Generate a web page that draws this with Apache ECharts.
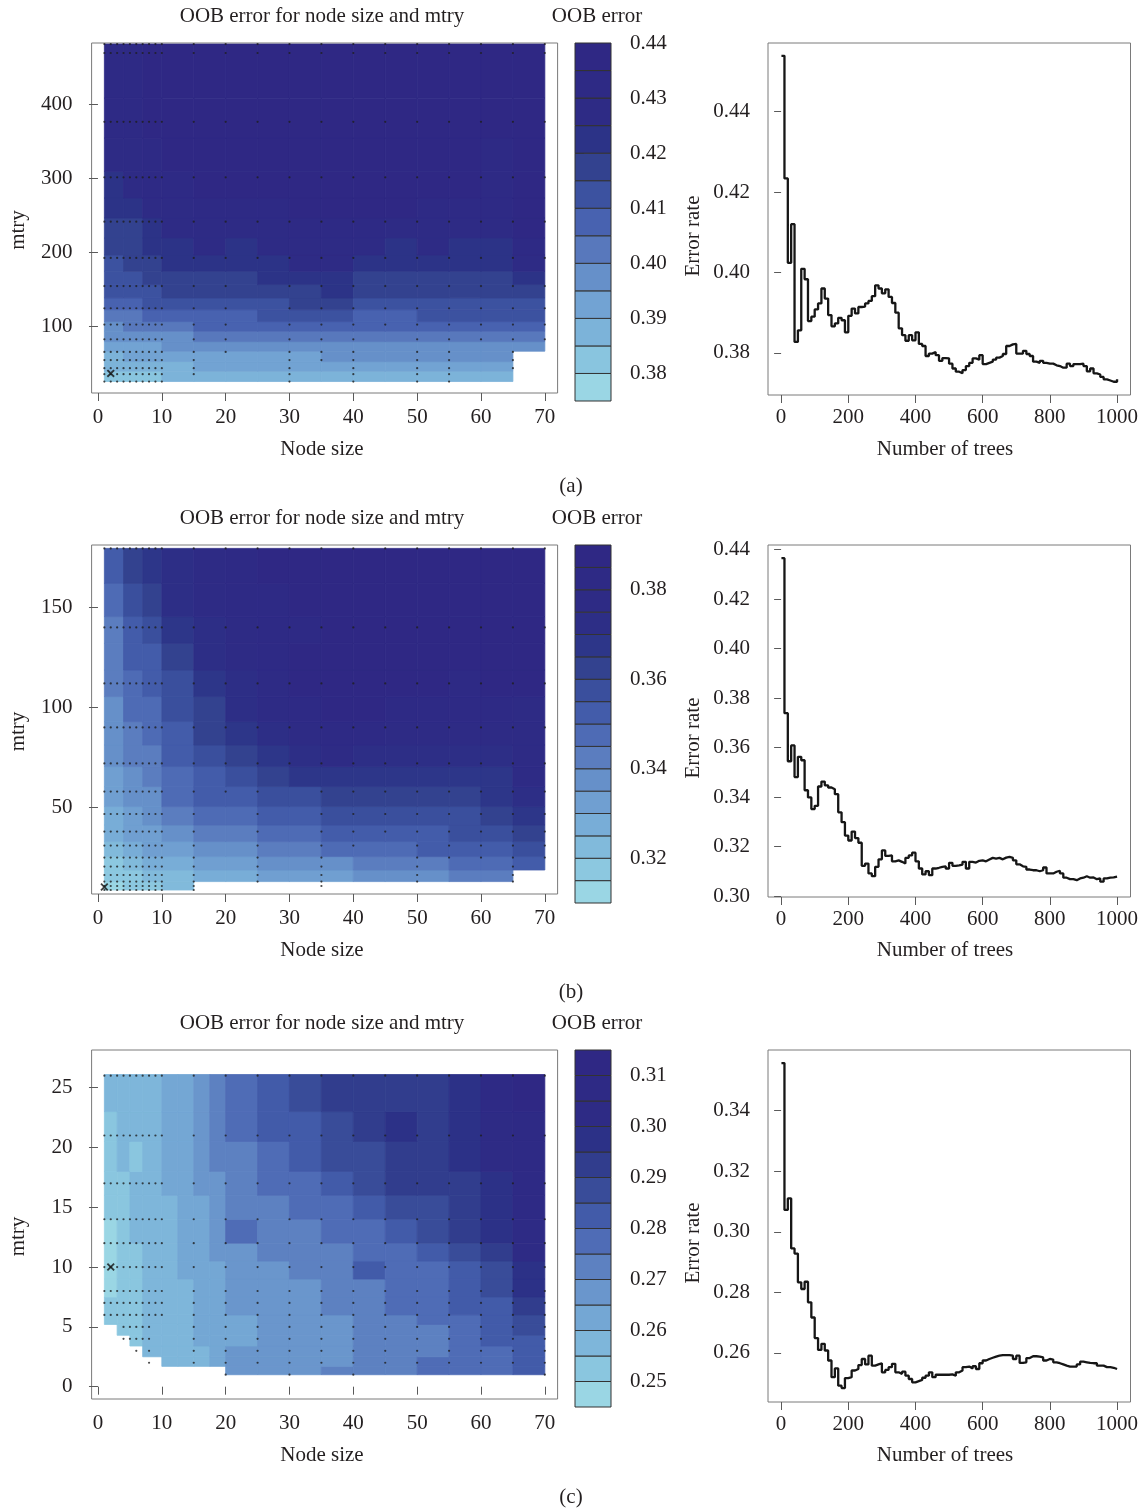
<!DOCTYPE html>
<html><head><meta charset="utf-8">
<script src="https://cdn.jsdelivr.net/npm/echarts@6/dist/echarts.min.js"></script>
<style>html,body{margin:0;padding:0;background:#fff}#c{width:1143px;height:1510px}</style>
</head><body><div id="c"></div>
<script>
// ---------- DATA ----------
const n = null;
// Panel (a) contour grid: column edges (node size), row edges (mtry), OOB error rows bottom->top
const nodeEdgesA = [1,4,7,10,15,20,25,30,35,40,45,50,55,60,65,70];
const mtryEdgesA = [25,39,52,66,79,93,106,122,138,156,174,196,219,246,273,309,354,408,481];
const oobA = [
 [.382,.382,.382,.387,.387,.387,.387,.387,.387,.387,.387,.387,.387,.387,n],
 [.387,.387,.387,.387,.392,.392,.392,.392,.392,.392,.392,.392,.392,.392,n],
 [.387,.392,.392,.392,.392,.392,.392,.392,.397,.397,.397,.397,.397,.397,n],
 [.392,.392,.392,.397,.397,.397,.397,.397,.397,.397,.397,.397,.397,.397,.397],
 [.397,.397,.397,.397,.402,.402,.402,.402,.402,.402,.402,.402,.402,.402,.402],
 [.397,.402,.402,.402,.407,.407,.407,.407,.407,.407,.407,.407,.407,.407,.407],
 [.402,.402,.407,.407,.407,.407,.412,.412,.412,.407,.407,.412,.412,.412,.412],
 [.407,.407,.412,.412,.412,.412,.412,.417,.417,.412,.412,.412,.412,.412,.412],
 [.412,.412,.412,.417,.417,.417,.417,.417,.422,.417,.417,.417,.417,.417,.417],
 [.412,.412,.417,.417,.417,.417,.422,.422,.422,.417,.417,.417,.417,.417,.422],
 [.412,.417,.417,.422,.422,.422,.422,.427,.427,.422,.422,.422,.422,.422,.427],
 [.417,.417,.422,.422,.427,.422,.427,.427,.427,.427,.422,.427,.422,.422,.432],
 [.417,.417,.422,.427,.427,.427,.427,.432,.432,.432,.427,.427,.427,.427,.437],
 [.422,.422,.427,.427,.432,.432,.432,.437,.437,.437,.437,.432,.432,.432,.437],
 [.422,.427,.432,.432,.437,.437,.437,.437,.437,.437,.437,.437,.437,.432,.437],
 [.427,.427,.432,.437,.437,.437,.437,.437,.437,.437,.437,.437,.437,.432,.437],
 [.432,.432,.437,.437,.437,.437,.437,.437,.437,.437,.437,.437,.437,.437,.437],
 [.432,.432,.437,.437,.437,.437,.437,.437,.437,.437,.437,.437,.437,.437,.437]
];
const levelsA = [0.375,0.38,0.385,0.39,0.395,0.40,0.405,0.41,0.415,0.42,0.425,0.43,0.435,0.44];
const keyTicksA = [0.38,0.39,0.40,0.41,0.42,0.43,0.44];

// Panel (b)
const nodeEdgesB = [1,4,7,10,15,20,25,30,35,40,45,50,55,60,65,70];
const mtryEdgesB = [8.5,12.7,18.5,25.2,32.7,41,50.2,60.2,70.2,81,92.7,105.2,118.5,131.8,145.2,161.8,179.3];
const oobB = [
 [.312,.317,.317,.322,n,n,n,n,n,n,n,n,n,n,n],
 [.317,.317,.322,.322,.327,.327,.332,.332,.332,.337,.337,.337,.342,.342,n],
 [.317,.322,.327,.327,.332,.332,.337,.337,.337,.342,.342,.342,.347,.347,.352],
 [.322,.327,.332,.332,.337,.337,.342,.342,.347,.347,.347,.352,.352,.352,.357],
 [.327,.332,.332,.337,.342,.342,.347,.347,.352,.352,.352,.352,.357,.357,.362],
 [.327,.332,.337,.342,.347,.347,.352,.352,.357,.357,.357,.357,.357,.362,.367],
 [.332,.337,.337,.347,.352,.352,.357,.357,.362,.362,.362,.362,.362,.367,.372],
 [.332,.337,.342,.347,.352,.357,.362,.367,.367,.367,.367,.367,.367,.367,.377],
 [.337,.342,.342,.352,.357,.362,.367,.372,.377,.372,.372,.372,.372,.372,.377],
 [.337,.342,.347,.352,.362,.367,.372,.377,.382,.382,.377,.377,.377,.377,.377],
 [.337,.347,.347,.357,.362,.372,.377,.382,.387,.387,.382,.382,.382,.382,.377],
 [.342,.347,.352,.357,.367,.372,.377,.387,.387,.387,.387,.387,.382,.387,.387],
 [.342,.352,.352,.362,.372,.377,.382,.387,.387,.387,.387,.387,.387,.387,.387],
 [.342,.352,.357,.367,.372,.377,.382,.382,.387,.387,.387,.387,.387,.387,.387],
 [.347,.357,.362,.372,.377,.382,.382,.387,.387,.387,.387,.387,.387,.387,.387],
 [.352,.362,.367,.372,.377,.382,.387,.387,.387,.387,.387,.387,.387,.387,.387]
];
const levelsB = [0.31,0.315,0.32,0.325,0.33,0.335,0.34,0.345,0.35,0.355,0.36,0.365,0.37,0.375,0.38,0.385,0.39];
const keyTicksB = [0.32,0.34,0.36,0.38];

// Panel (c)
const nodeEdgesC = [1,3,5,7,10,12.5,15,17.5,20,25,30,35,40,45,50,55,60,65,70];
const mtryEdgesC = [1,1.7,2.5,3.4,4.3,5.2,6,7.5,9,10.5,12,14,16,18,20.5,23,26.1];
const oobC = [
 [n,n,n,n,n,n,n,n,.267,.267,.267,.272,.272,.272,.277,.277,.277,.282],
 [n,n,n,n,.257,.257,.257,.262,.267,.267,.267,.267,.272,.272,.277,.277,.277,.282],
 [n,n,n,.257,.257,.257,.257,.262,.267,.267,.267,.267,.272,.272,.272,.277,.277,.282],
 [n,n,.252,.257,.257,.257,.262,.262,.262,.267,.267,.267,.272,.272,.272,.277,.282,.282],
 [n,.252,.252,.257,.257,.257,.262,.262,.262,.267,.267,.267,.272,.272,.272,.277,.282,.287],
 [.252,.252,.252,.257,.257,.257,.262,.262,.262,.267,.267,.267,.272,.272,.277,.277,.282,.287],
 [.252,.252,.252,.257,.257,.257,.262,.262,.267,.267,.267,.272,.272,.277,.277,.282,.282,.292],
 [.247,.252,.252,.257,.257,.257,.262,.262,.267,.267,.267,.272,.272,.277,.277,.282,.287,.297],
 [.247,.252,.252,.257,.257,.262,.262,.262,.267,.267,.272,.272,.282,.277,.277,.282,.287,.297],
 [.247,.252,.252,.257,.257,.262,.262,.267,.267,.272,.272,.272,.277,.277,.282,.287,.292,.302],
 [.247,.252,.257,.257,.257,.262,.262,.267,.277,.272,.272,.277,.277,.282,.287,.292,.297,.302],
 [.252,.252,.257,.257,.257,.262,.262,.267,.272,.272,.277,.277,.282,.287,.287,.292,.297,.307],
 [.252,.252,.257,.257,.262,.262,.267,.267,.272,.277,.277,.282,.287,.292,.292,.292,.297,.307],
 [.252,.257,.252,.257,.262,.262,.267,.272,.272,.277,.282,.287,.287,.292,.292,.297,.302,.307],
 [.252,.257,.257,.257,.262,.262,.267,.272,.277,.282,.282,.287,.292,.297,.292,.297,.302,.307],
 [.257,.257,.257,.257,.262,.262,.267,.272,.277,.282,.287,.292,.292,.292,.292,.297,.307,.312]
];
const levelsC = [0.245,0.25,0.255,0.26,0.265,0.27,0.275,0.28,0.285,0.29,0.295,0.30,0.305,0.31,0.315];
const keyTicksC = [0.25,0.26,0.27,0.28,0.29,0.30,0.31];

// sample points (dots) and best settings (x markers)
const dotNodes = [1,2,3,4,5,6,7,8,9,10,15,20,25,30,35,40,45,50,55,60,65,70];
const dotMtryA = [25,35,43,54,65,82,102,124,154,192,241,301,376,469,481];
const dotMinA  = [25,25,25,25,25,25,25,25,25,25,35,65,192,25,54,25,102,25,25,82,43,82];
const dotMtryB = [8.5,10.5,12.7,16,20.2,24.7,30.7,37.7,46.5,57.7,71.8,89.8,111.8,139.8,179.3];
const dotMinB  = [8.5,8.5,8.5,8.5,8.5,8.5,8.5,8.5,8.5,8.5,8.5,57.7,12.7,71.8,10.5,30.7,37.7,12.7,24.7,24.7,12.7,24.7];
const dotMtryC = [1,2,3,4,5,6,7,8,10,12,14,17,21,26];
const dotMinC  = [6,6,6,4,4,3,4,2,6,6,2,1,2,1,2,1,2,2,2,2,2,1];
const bestA = [2,36], bestB = [1,10], bestC = [2,10];

// error rate vs number of trees
const trees = [1,10,20,30,40,50,60,70,80,90,100,110,120,130,140,150,160,170,180,190,200,210,220,230,240,250,260,270,280,290,300,310,320,330,340,350,360,370,380,390,400,410,420,430,440,450,460,470,480,490,500,510,520,530,540,550,560,570,580,590,600,610,620,630,640,650,660,670,680,690,700,710,720,730,740,750,760,770,780,790,800,810,820,830,840,850,860,870,880,890,900,910,920,930,940,950,960,970,980,990,1000];
const errA = [0.4539,0.4234,0.4024,0.4120,0.3827,0.3856,0.4009,0.3983,0.3879,0.3890,
 0.3908,0.3923,0.3960,0.3935,0.3894,0.3866,0.3873,0.3887,0.3881,0.3851,
 0.3892,0.3910,0.3898,0.3914,0.3915,0.3923,0.3929,0.3941,0.3968,0.3960,
 0.3948,0.3958,0.3939,0.3924,0.3900,0.3861,0.3844,0.3830,0.3844,0.3831,
 0.3851,0.3822,0.3817,0.3792,0.3798,0.3802,0.3794,0.3780,0.3787,0.3786,
 0.3773,0.3761,0.3753,0.3749,0.3757,0.3767,0.3775,0.3786,0.3783,0.3794,
 0.3772,0.3775,0.3778,0.3783,0.3788,0.3792,0.3797,0.3817,0.3821,0.3822,
 0.3798,0.3798,0.3805,0.3797,0.3792,0.3778,0.3775,0.3780,0.3775,0.3773,
 0.3773,0.3769,0.3767,0.3763,0.3763,0.3773,0.3767,0.3772,0.3772,0.3773,
 0.3767,0.3754,0.3761,0.3749,0.3746,0.3740,0.3734,0.3731,0.3728,0.3728,0.3734];
const errB = [0.4365,0.3739,0.3545,0.3609,0.3481,0.3563,0.3549,0.3428,0.3399,0.3352,
 0.3365,0.3443,0.3463,0.3448,0.3439,0.3432,0.3412,0.3339,0.3299,0.3245,
 0.3225,0.3261,0.3235,0.3216,0.3123,0.3132,0.3092,0.3081,0.3119,0.3149,
 0.3185,0.3163,0.3165,0.3141,0.3145,0.3139,0.3132,0.3155,0.3165,0.3176,
 0.3141,0.3112,0.3088,0.3101,0.3085,0.3112,0.3115,0.3119,0.3121,0.3112,
 0.3135,0.3123,0.3125,0.3128,0.3139,0.3112,0.3139,0.3136,0.3143,0.3145,
 0.3141,0.3148,0.3155,0.3152,0.3155,0.3149,0.3156,0.3159,0.3155,0.3145,
 0.3129,0.3121,0.3119,0.3108,0.3105,0.3105,0.3101,0.3105,0.3116,0.3092,
 0.3092,0.3099,0.3103,0.3092,0.3075,0.3069,0.3069,0.3065,0.3072,0.3075,
 0.3081,0.3075,0.3076,0.3069,0.3072,0.3059,0.3072,0.3075,0.3076,0.3079,0.3081];
const errC = [0.3557,0.3072,0.3110,0.2945,0.2928,0.2833,0.2811,0.2835,0.2767,0.2717,
 0.2649,0.2610,0.2630,0.2608,0.2575,0.2520,0.2549,0.2492,0.2484,0.2517,
 0.2520,0.2542,0.2547,0.2560,0.2580,0.2562,0.2591,0.2558,0.2562,0.2566,
 0.2536,0.2544,0.2553,0.2564,0.2536,0.2531,0.2538,0.2525,0.2514,0.2503,
 0.2507,0.2511,0.2518,0.2525,0.2536,0.2520,0.2528,0.2528,0.2528,0.2528,
 0.2529,0.2525,0.2536,0.2542,0.2553,0.2555,0.2549,0.2556,0.2547,0.2566,
 0.2575,0.2580,0.2584,0.2588,0.2591,0.2593,0.2593,0.2593,0.2591,0.2580,
 0.2591,0.2567,0.2569,0.2583,0.2589,0.2589,0.2588,0.2585,0.2575,0.2580,
 0.2578,0.2569,0.2566,0.2562,0.2558,0.2555,0.2555,0.2555,0.2562,0.2571,
 0.2569,0.2567,0.2566,0.2566,0.2558,0.2558,0.2553,0.2553,0.2551,0.2547,0.2547];

// tick labels
const nodeTicks = [0,10,20,30,40,50,60,70];
const mtryTicksA = [100,200,300,400];
const mtryTicksB = [50,100,150];
const mtryTicksC = [0,5,10,15,20,25];
const treeTicks = [0,200,400,600,800,1000];
const errTicksA = [0.38,0.40,0.42,0.44];
const errTicksB = [0.30,0.32,0.34,0.36,0.38,0.40,0.42,0.44];
const errTicksC = [0.26,0.28,0.30,0.32,0.34];

// ---------- STYLE ----------
const FONT = "'Liberation Serif','DejaVu Serif',serif";
const TXT = '#231f20';
const FS = 21;
const TICK = {color:'#5a5a5a', width:1};
const rampAnchors = ['#9ad6e4','#89c5df','#7cb3d9','#72a3d3','#6690c9','#5878bc','#4862b0','#3c52a0','#33428f','#2c3387','#2e2b85','#2e2a85','#2f2884'];
function palette(nb){ const out=[]; for(let i=0;i<nb;i++){ out.push(echarts.color.lerp(nb===1?0:i/(nb-1), rampAnchors)); } return out; }

function cells(nodeEdges, mtryEdges, rows){
  const out=[];
  rows.forEach((row,r)=>row.forEach((v,c)=>{ if(v!=null) out.push([nodeEdges[c],nodeEdges[c+1],mtryEdges[r],mtryEdges[r+1],v]); }));
  return out;
}
function dots(nodes, mtrys, mins){
  const out=[]; nodes.forEach((nd,i)=>mtrys.forEach(m=>{ if(m>=mins[i]) out.push([nd,m]); })); return out;
}
function colorOf(levels, pal, v){
  for(let i=0;i<pal.length;i++){ if(v<levels[i+1]) return pal[i]; }
  return pal[pal.length-1];
}

const panels = [
  {ne:nodeEdgesA, me:mtryEdgesA, oob:oobA, lv:levelsA, kt:keyTicksA, mt:mtryTicksA, dm:dotMtryA, dmin:dotMinA, best:bestA, err:errA, et:errTicksA,
   top:43, ch:350, ymin:9.5, ymax:482.5, ktop:43, kh:358, ltop:43, lmin:0.3695, lmax:0.4571, lab:'(a)', ly:486},
  {ne:nodeEdgesB, me:mtryEdgesB, oob:oobB, lv:levelsB, kt:keyTicksB, mt:mtryTicksB, dm:dotMtryB, dmin:dotMinB, best:bestB, err:errB, et:errTicksB,
   top:545, ch:349, ymin:6.5, ymax:181, ktop:545, kh:358, ltop:545, lmin:0.2997, lmax:0.4418, lab:'(b)', ly:992},
  {ne:nodeEdgesC, me:mtryEdgesC, oob:oobC, lv:levelsC, kt:keyTicksC, mt:mtryTicksC, dm:dotMtryC, dmin:dotMinC, best:bestC, err:errC, et:errTicksC,
   top:1050, ch:349, ymin:-1.03, ymax:28.15, ktop:1050, kh:357, ltop:1050, lmin:0.2438, lmax:0.3600, lab:'(c)', ly:1497}
];

const grid=[], xAxis=[], yAxis=[], series=[], graphic=[];
function lbl(extra){ return Object.assign({color:TXT, fontFamily:FONT, fontSize:FS}, extra); }
function txt(x,y,t,rot){ const g={type:'text', x:x, y:y, style:{text:t, fill:TXT, font:FS+'px '+FONT, align:'center', verticalAlign:'middle'}}; if(rot){g.rotation=Math.PI/2;} graphic.push(g); }

panels.forEach((p,k)=>{
  const gi = k*3;
  const pal = palette(p.lv.length-1);
  // contour grid
  grid.push({left:91.6, top:p.top, width:466, height:p.ch, show:true, borderColor:'#7a7a7a', borderWidth:1, backgroundColor:'transparent'});
  xAxis.push({type:'value', gridIndex:gi, min:-1, max:72, axisLine:{show:false}, splitLine:{show:false},
    axisTick:{show:true, length:8, lineStyle:TICK, customValues:nodeTicks},
    axisLabel:lbl({margin:14, customValues:nodeTicks, formatter:v=>String(v)})});
  yAxis.push({type:'value', gridIndex:gi, min:p.ymin, max:p.ymax, axisLine:{show:false}, splitLine:{show:false},
    axisTick:{show:true, length:9, lineStyle:TICK, customValues:p.mt},
    axisLabel:lbl({margin:19, customValues:p.mt, formatter:v=>String(v)})});
  series.push({type:'custom', xAxisIndex:gi, yAxisIndex:gi, clip:true, silent:true,
    dimensions:['x0','x1','y0','y1','v'], encode:{x:[0,1], y:[2,3]},
    data: cells(p.ne, p.me, p.oob),
    renderItem:(params, api)=>{
      const a = api.coord([api.value(0), api.value(3)]);
      const b = api.coord([api.value(1), api.value(2)]);
      const c = colorOf(p.lv, pal, api.value(4));
      return {type:'rect', shape:{x:a[0], y:a[1], width:b[0]-a[0], height:b[1]-a[1]}, style:{fill:c, stroke:c, lineWidth:0.8}};
    }, z:1});
  series.push({type:'scatter', xAxisIndex:gi, yAxisIndex:gi, data:dots(dotNodes, p.dm, p.dmin), symbol:'circle', symbolSize:2.2,
    itemStyle:{color:'#1e1e1e'}, silent:true, z:3});
  series.push({type:'scatter', xAxisIndex:gi, yAxisIndex:gi, data:[p.best],
    symbol:'path://M0,1.6L1.6,0L5,3.4L8.4,0L10,1.6L6.6,5L10,8.4L8.4,10L5,6.6L1.6,10L0,8.4L3.4,5Z', symbolSize:8,
    itemStyle:{color:'#111'}, silent:true, z:4});

  // colour key
  grid.push({left:575, top:p.ktop, width:36, height:p.kh, show:false});
  xAxis.push({type:'value', gridIndex:gi+1, min:0, max:1, show:false});
  yAxis.push({type:'value', gridIndex:gi+1, min:p.lv[0], max:p.lv[p.lv.length-1], position:'right',
    axisLine:{show:false}, splitLine:{show:false},
    axisTick:{show:true, length:9, lineStyle:TICK, customValues:p.kt},
    axisLabel:lbl({margin:19, customValues:p.kt, formatter:v=>v.toFixed(2)})});
  const keyData = [];
  for(let i=0;i<p.lv.length-1;i++) keyData.push([0,1,p.lv[i],p.lv[i+1],i]);
  series.push({type:'custom', xAxisIndex:gi+1, yAxisIndex:gi+1, silent:true,
    dimensions:['x0','x1','y0','y1','i'], encode:{x:[0,1], y:[2,3]}, data:keyData,
    renderItem:(params, api)=>{
      const a = api.coord([api.value(0), api.value(3)]);
      const b = api.coord([api.value(1), api.value(2)]);
      return {type:'rect', shape:{x:a[0], y:a[1], width:b[0]-a[0], height:b[1]-a[1]}, style:{fill:pal[api.value(4)], stroke:'#333', lineWidth:1}};
    }});

  // error rate line
  grid.push({left:768, top:p.ltop, width:362.5, height:352, show:true, borderColor:'#7a7a7a', borderWidth:1});
  xAxis.push({type:'value', gridIndex:gi+2, min:-39, max:1040, axisLine:{show:false}, splitLine:{show:false},
    axisTick:{show:true, length:8, lineStyle:TICK, customValues:treeTicks},
    axisLabel:lbl({margin:12, customValues:treeTicks, formatter:v=>String(v)})});
  yAxis.push({type:'value', gridIndex:gi+2, min:p.lmin, max:p.lmax, axisLine:{show:false}, splitLine:{show:false},
    axisTick:{show:true, length:7, lineStyle:TICK, customValues:p.et},
    axisLabel:lbl({margin:18, customValues:p.et, formatter:v=>v.toFixed(2)})});
  series.push({type:'line', xAxisIndex:gi+2, yAxisIndex:gi+2, step:'end', showSymbol:false, silent:true,
    data: trees.map((t,i)=>[t, p.err[i]]), lineStyle:{color:'#161616', width:2.3}});

  // texts
  const t0 = p.top - 27;
  txt(322, t0, 'OOB error for node size and mtry');
  txt(597, t0, 'OOB error');
  txt(322, p.top + p.ch + 56, 'Node size');
  txt(945, p.top + p.ch + 56, 'Number of trees');
  txt(18, p.top + p.ch/2 + 12, 'mtry', true);
  txt(693, p.top + 193, 'Error rate', true);
  txt(571, p.ly, p.lab);
});

const chart = echarts.init(document.getElementById('c'), null, {renderer:'canvas'});
chart.setOption({animation:false, backgroundColor:'#fff', grid, xAxis, yAxis, series, graphic});
</script></body></html>
